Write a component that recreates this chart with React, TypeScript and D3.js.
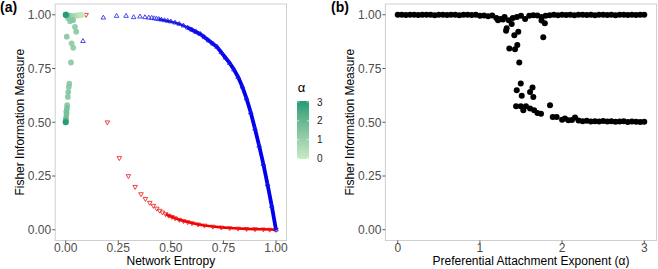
import React from "react";
import * as d3 from "d3";

// ---------- Panel (a) data ----------
const greenEntropy = [0.0, 0.0, 0.0, 0.002, 0.005, 0.01, 0.015, 0.02, 0.025, 0.03, 0.035, 0.04, 0.045, 0.05, 0.055, 0.06, 0.065, 0.07, 0.075, 0.078, 0.01, 0.02, 0.03,
  0.005, 0.035, 0.044, 0.05, 0.028, 0.036, 0.025, 0.017, 0.015, 0.012, 0.01, 0.007, 0.006, 0.004, 0.003, 0.002, 0.0, 0.0, 0.0, 0.0];
const greenFisher = [1.0, 1.0, 1.0, 0.998, 0.998, 0.997, 0.995, 0.996, 0.994, 0.995, 0.993, 0.996, 0.995, 0.997, 0.996, 0.998, 0.997, 0.998, 0.999, 1.0, 0.985, 0.97, 0.975,
  0.898, 0.975, 0.944, 0.921, 0.867, 0.846, 0.778, 0.68, 0.665, 0.641, 0.618, 0.579, 0.564, 0.54, 0.55, 0.522, 0.51, 0.505, 0.5, 0.5];
const greenAlpha = [3.0, 2.8, 2.5, 2.2, 2.0, 1.2, 1.0, 0.9, 0.8, 0.7, 0.6, 0.5, 0.4, 0.3, 0.25, 0.2, 0.15, 0.1, 0.05, 0.0, 1.3, 1.35, 1.3,
  1.5, 1.4, 1.45, 1.42, 1.45, 1.43, 1.5, 1.5, 1.55, 1.6, 1.6, 1.65, 1.7, 1.75, 1.7, 1.85, 2.0, 2.2, 2.6, 3.0];

const blueEntropy = [0.082, 0.179, 0.242, 0.287, 0.323, 0.353, 0.377, 0.395, 0.409, 0.421, 0.432, 0.443, 0.455, 0.47, 0.485, 0.5, 0.52, 0.54, 0.56, 0.58, 0.6, 0.62, 0.64, 0.66, 0.68, 0.7, 0.72, 0.74, 0.76, 0.78, 0.8, 0.82, 0.84, 0.86, 0.88, 0.9, 0.92, 0.94, 0.96, 0.98, 1.0];
const blueFisher = [0.877, 0.986, 0.994, 0.994, 0.988, 0.991, 0.988, 0.986, 0.985, 0.983, 0.981, 0.979, 0.977, 0.974, 0.971, 0.968, 0.963, 0.957, 0.949, 0.94, 0.93, 0.92, 0.91, 0.895, 0.88, 0.865, 0.85, 0.825, 0.8, 0.775, 0.745, 0.71, 0.665, 0.61, 0.545, 0.47, 0.39, 0.305, 0.21, 0.11, 0.0];

const redEntropy = [0.097, 0.198, 0.255, 0.298, 0.33, 0.358, 0.379, 0.4, 0.417, 0.433, 0.447, 0.46, 0.475, 0.49, 0.505, 0.52, 0.54, 0.56, 0.58, 0.6, 0.63, 0.66, 0.7, 0.74, 0.78, 0.82, 0.86, 0.9, 0.94, 0.97, 1.0];
const redFisher = [1.0, 0.5, 0.334, 0.25, 0.2, 0.166, 0.144, 0.126, 0.112, 0.099, 0.089, 0.081, 0.073, 0.066, 0.06, 0.054, 0.047, 0.041, 0.036, 0.031, 0.025, 0.02, 0.015, 0.011, 0.008, 0.006, 0.004, 0.003, 0.002, 0.001, 0.0];

const ticksA = [0, 0.25, 0.5, 0.75, 1.0];
const tickLabelsA = ["0.00", "0.25", "0.50", "0.75", "1.00"];
const legendTicks = [0, 1, 2, 3];

// ---------- Panel (b) data ----------
const alphaUpper = [0, 0.05, 0.1, 0.15, 0.2, 0.25, 0.3, 0.35, 0.4, 0.45, 0.5, 0.55, 0.6, 0.65, 0.7, 0.75, 0.8, 0.85, 0.9, 0.95,
  1.0, 1.05, 1.1, 1.15, 1.2, 1.25, 1.3, 1.35, 1.4, 1.45, 1.5, 1.55, 1.6, 1.65, 1.7, 1.75, 1.8, 1.85, 1.9, 1.95,
  2.0, 2.05, 2.1, 2.15, 2.2, 2.25, 2.3, 2.35, 2.4, 2.45, 2.5, 2.55, 2.6, 2.65, 2.7, 2.75, 2.8, 2.85, 2.9, 2.95, 3.0];
const fisherUpper = [1.0, 1.0, 0.999, 1.0, 1.0, 0.999, 1.0, 1.0, 1.0, 0.998, 1.0, 1.0, 0.999, 1.0, 1.0, 0.998, 1.0, 1.0, 0.999, 1.0,
  0.995, 0.997, 0.993, 0.996, 0.985, 0.98, 0.99, 0.975, 0.985, 0.99, 0.995, 0.98, 0.995, 0.998, 0.997, 0.99, 0.995, 0.998, 1.0, 0.998,
  1.0, 0.999, 1.0, 0.998, 1.0, 1.0, 0.999, 1.0, 0.998, 1.0, 1.0, 0.999, 1.0, 0.998, 1.0, 1.0, 0.999, 1.0, 0.999, 1.0, 1.0];

const alphaLower = [1.326, 1.318, 1.387, 1.419, 1.467, 1.358, 1.427, 1.455, 1.479, 1.497, 1.448, 1.509, 1.44, 1.497, 1.61, 1.64, 1.65, 1.56, 1.528, 1.61, 1.66, 1.7, 1.743,
  1.853, 1.886, 1.934, 1.771, 1.75, 1.79, 1.22, 1.28,
  2.0, 2.035, 2.076, 2.12, 2.157, 2.2, 2.25, 2.3, 2.35, 2.4, 2.45, 2.5, 2.55, 2.6, 2.65, 2.7, 2.75, 2.8, 2.85, 2.9, 2.95, 3.0];
const fisherLower = [0.937, 0.926, 0.957, 0.905, 0.921, 0.843, 0.839, 0.859, 0.778, 0.68, 0.649, 0.623, 0.575, 0.575, 0.641, 0.662, 0.618, 0.575, 0.556, 0.564, 0.556, 0.543, 0.54,
  0.579, 0.525, 0.525, 0.895, 0.973, 0.96, 0.975, 0.978,
  0.512, 0.517, 0.509, 0.51, 0.522, 0.508, 0.505, 0.507, 0.503, 0.505, 0.504, 0.506, 0.503, 0.505, 0.502, 0.503, 0.505, 0.501, 0.503, 0.502, 0.501, 0.502];

const ticksB = [0, 1, 2, 3];

// ---------- layout ----------
const W = 658, H = 269;
const FONT = "'Liberation Sans', Arial, Helvetica, sans-serif";
const panelTop = 4, panelBottom = 240.5;
const aLeft = 55.2, aRight = 286.5;
const bLeft = 385.4, bRight = 656.6;
const lowCol = "#c9ebc6", highCol = "#1f9c76";

export default function App() {
  const y = d3.scaleLinear().domain([-0.05, 1.05]).range([panelBottom, panelTop]);
  const xA = d3.scaleLinear().domain([-0.05, 1.05]).range([aLeft, aRight]);
  const xB = d3.scaleLinear().domain([-0.15, 3.15]).range([bLeft, bRight]);
  const col = d3.scaleLinear<string>().domain([0, 3]).range([lowCol, highCol]).interpolate(d3.interpolateLab);
  const legY = d3.scaleLinear().domain([0, 3]).range([158.5, 102]);

  const tri = d3.symbol(d3.symbolTriangle, 9)()!;
  const blueLine = d3.line<number>().x((d) => xA(blueEntropy[d])).y((d) => y(blueFisher[d]));
  const redLine = d3.line<number>().x((d) => xA(redEntropy[d])).y((d) => y(redFisher[d]));
  const blueDense = d3.range(blueEntropy.length).filter((i) => blueEntropy[i] >= 0.44);
  const blueSteep = d3.range(blueEntropy.length).filter((i) => blueEntropy[i] >= 0.58);
  const redDense = d3.range(redEntropy.length).filter((i) => redEntropy[i] >= 0.47);

  const greenOrder = d3.range(greenEntropy.length).sort((a, b) => greenAlpha[a] - greenAlpha[b]);

  const yAxis = (x0: number) => (
    <g>
      {ticksA.map((t, i) => (
        <g key={i}>
          <line x1={x0 - 3} x2={x0} y1={y(t)} y2={y(t)} stroke="#333" strokeWidth={0.8} />
          <text x={x0 - 4} y={y(t)} dy="0.36em" textAnchor="end" fontSize={12} fill="#4d4d4d" fontFamily={FONT}>{tickLabelsA[i]}</text>
        </g>
      ))}
    </g>
  );

  return (
    <svg width={W} height={H} style={{ position: "absolute", left: 0, top: 0, background: "#fff" }}>
      <defs>
        <linearGradient id="legGrad" x1="0" y1="1" x2="0" y2="0">
          {d3.range(0, 3.01, 0.5).map((v) => (
            <stop key={v} offset={`${(v / 3) * 100}%`} stopColor={col(v)} />
          ))}
        </linearGradient>
      </defs>

      {/* ---------- Panel (a) ---------- */}
      <text x={0} y={12} fontSize={14} fontWeight="bold" fontFamily={FONT} fill="#000">(a)</text>
      <rect x={aLeft} y={panelTop} width={aRight - aLeft} height={panelBottom - panelTop} fill="#fff" stroke="#cfcfcf" strokeWidth={1} />
      {yAxis(aLeft)}
      {ticksA.map((t, i) => (
        <g key={i}>
          <line x1={xA(t)} x2={xA(t)} y1={panelBottom} y2={panelBottom + 3} stroke="#333" strokeWidth={0.8} />
          <text x={xA(t)} y={251.7} textAnchor="middle" fontSize={12} fill="#4d4d4d" fontFamily={FONT}>{tickLabelsA[i]}</text>
        </g>
      ))}
      <text x={(aLeft + aRight) / 2} y={265} textAnchor="middle" fontSize={12} fill="#000" fontFamily={FONT}>Network Entropy</text>
      <text transform={`translate(24,${(panelTop + panelBottom) / 2}) rotate(-90)`} textAnchor="middle" fontSize={12} fill="#000" fontFamily={FONT}>Fisher Information Measure</text>

      {/* red (downward triangles) */}
      <path d={redLine(redDense) || ""} fill="none" stroke="#ee0000" strokeWidth={2.6} />
      {redEntropy.map((e, i) => (
        <path key={i} d={tri} transform={`translate(${xA(e)},${y(redFisher[i])}) rotate(180)`} fill="none" stroke="#f01010" strokeWidth={0.8} />
      ))}
      {/* blue (upward triangles) */}
      <path d={blueLine(blueDense) || ""} fill="none" stroke="#1010e0" strokeWidth={2.4} />
      <path d={blueLine(blueSteep) || ""} fill="none" stroke="#0000ee" strokeWidth={3.8} />
      {blueEntropy.map((e, i) => (
        <path key={i} d={tri} transform={`translate(${xA(e)},${y(blueFisher[i])})`} fill="none" stroke="#2020ee" strokeWidth={0.8} />
      ))}
      {/* green circles */}
      {greenOrder.map((i) => (
        <circle key={i} cx={xA(greenEntropy[i])} cy={y(greenFisher[i])} r={2.9} fill={col(greenAlpha[i])} fillOpacity={0.85} />
      ))}

      {/* legend */}
      <text x={301.5} y={92} textAnchor="middle" fontSize={13} fill="#000" fontFamily={FONT}>α</text>
      <rect x={297} y={101} width={12} height={58} fill="url(#legGrad)" />
      {legendTicks.map((t) => (
        <g key={t}>
          <line x1={297} x2={299.4} y1={legY(t)} y2={legY(t)} stroke="#fff" strokeWidth={0.6} />
          <line x1={306.6} x2={309} y1={legY(t)} y2={legY(t)} stroke="#fff" strokeWidth={0.6} />
          <text x={317} y={legY(t)} dy="0.36em" fontSize={10} fill="#222" fontFamily={FONT}>{t}</text>
        </g>
      ))}

      {/* ---------- Panel (b) ---------- */}
      <text x={331} y={12} fontSize={14} fontWeight="bold" fontFamily={FONT} fill="#000">(b)</text>
      <rect x={bLeft} y={panelTop} width={bRight - bLeft} height={panelBottom - panelTop} fill="#fff" stroke="#cfcfcf" strokeWidth={1} />
      {yAxis(bLeft)}
      {ticksB.map((t) => (
        <g key={t}>
          <line x1={xB(t)} x2={xB(t)} y1={panelBottom} y2={panelBottom + 3} stroke="#333" strokeWidth={0.8} />
          <text x={xB(t)} y={251.7} textAnchor="middle" fontSize={12} fill="#4d4d4d" fontFamily={FONT}>{t}</text>
        </g>
      ))}
      <text x={531} y={265} textAnchor="middle" fontSize={12} fill="#000" fontFamily={FONT}>Preferential Attachment Exponent (α)</text>
      <text transform={`translate(354,${(panelTop + panelBottom) / 2}) rotate(-90)`} textAnchor="middle" fontSize={12} fill="#000" fontFamily={FONT}>Fisher Information Measure</text>

      {alphaUpper.map((a, i) => (
        <circle key={"u" + i} cx={xB(a)} cy={y(fisherUpper[i])} r={3} fill="#000" />
      ))}
      {alphaLower.map((a, i) => (
        <circle key={"l" + i} cx={xB(a)} cy={y(fisherLower[i])} r={3} fill="#000" />
      ))}
    </svg>
  );
}
